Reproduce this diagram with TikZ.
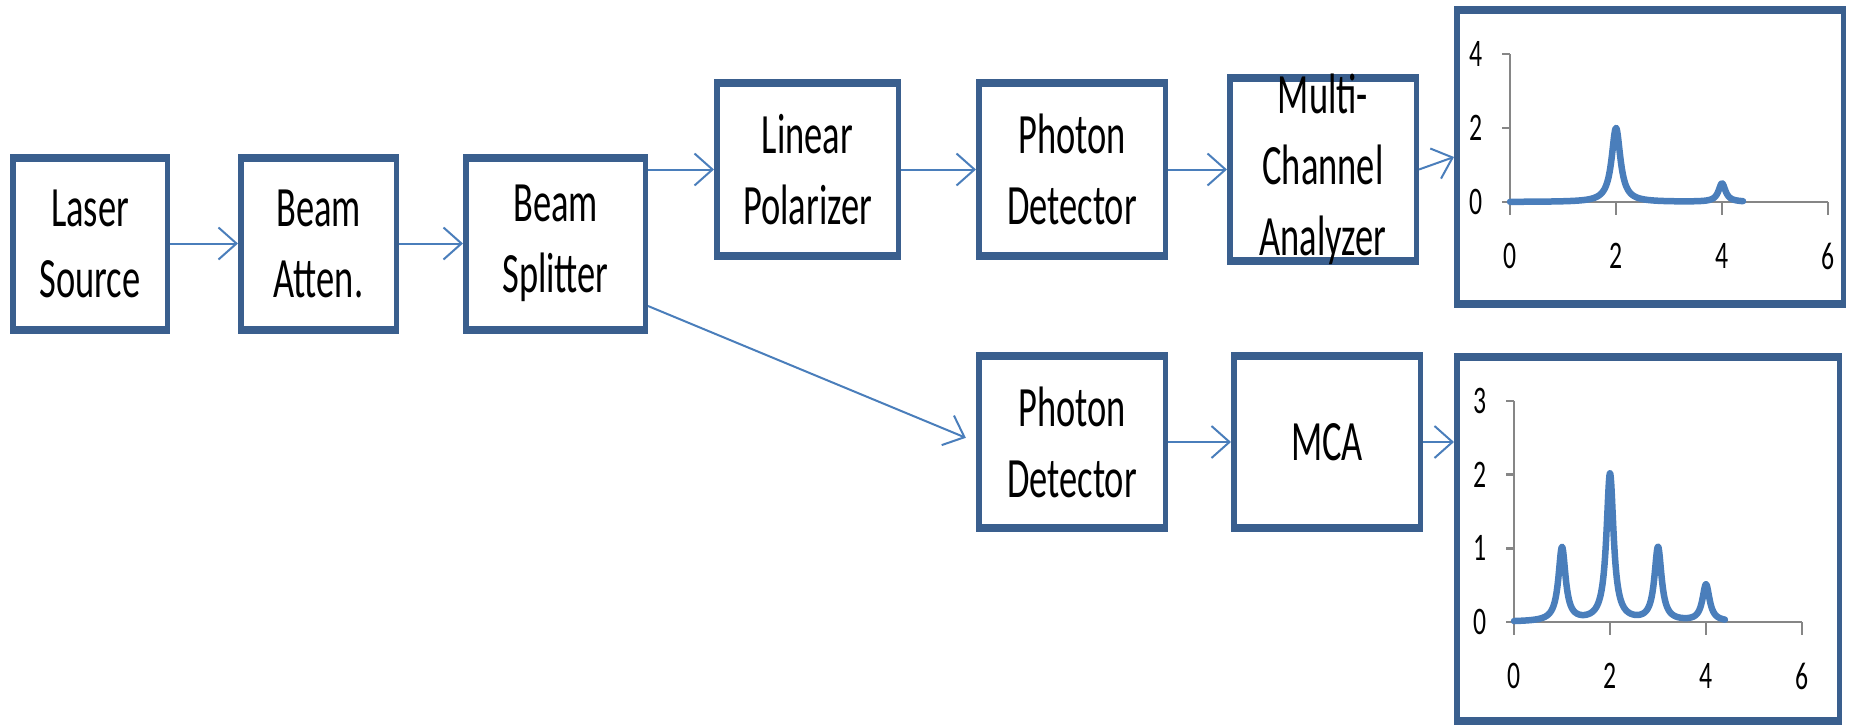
\documentclass[tikz,border=0pt]{standalone}
\usepackage{fontspec}
\setmainfont{Carlito}
\newfontfamily\boxfont{Carlito}[FakeStretch=0.64]
\newfontfamily\digitfont{Carlito}[FakeStretch=0.66]
\usetikzlibrary{arrows.meta,calc}
\definecolor{boxblue}{HTML}{3A5F8E}
\definecolor{arrblue}{HTML}{4A7EBB}
\definecolor{curveblue}{HTML}{4A7EBB}
\definecolor{axisgray}{HTML}{868686}
\tikzset{
  frame/.style={rectangle, inner sep=0pt, outer sep=0pt, draw=none, align=center,
    font={\boxfont\fontsize{57}{71}\selectfont},
    path picture={
      \fill[boxblue] (path picture bounding box.south west) rectangle (path picture bounding box.north east);
      \fill[white] ([shift={(5.5pt,8pt)}]path picture bounding box.south west) rectangle ([shift={(-5.5pt,-8pt)}]path picture bounding box.north east);
    }},
  arr/.style={draw=arrblue, line width=2pt, -{Straight Barb[length=18pt,width=32pt,line width=2pt]}},
  axisline/.style={draw=axisgray, line width=2.5pt},
  curve/.style={draw=curveblue, line width=6.5pt, line cap=round, line join=round},
  digit/.style={font={\digitfont\fontsize{39}{44}\selectfont}, inner sep=0pt},
}
\begin{document}
\begin{tikzpicture}[x=1pt,y=-1pt]
\useasboundingbox (0,0) rectangle (1850,728);
% blocks
\node[frame, minimum width=160pt, minimum height=180pt] (laser) at (90,243.5) {Laser\\Source};
\node[frame, minimum width=161pt, minimum height=180pt] (atten) at (318.5,243.5) {Beam\\Atten.};
\node[frame, minimum width=185pt, minimum height=180pt] (split) at (555.5,243.5) {Beam\\Splitter};
\node[frame, minimum width=187pt, minimum height=181pt] (lp) at (807.5,169.5) {Linear\\Polarizer};
\node[frame, minimum width=192pt, minimum height=181pt] (pdA) at (1072,169.5) {Photon\\Detector};
\node[frame, minimum width=192pt, minimum height=181pt] (mcaA) at (1323,169.5) {Multi-\\Channel\\Analyzer};
\node[frame, minimum width=192pt, minimum height=180pt] (pdB) at (1072,442) {Photon\\Detector};
\node[frame, minimum width=192pt, minimum height=180pt] (mcaB) at (1327,442) {MCA};
\node[frame, minimum width=392pt, minimum height=302pt] (chartA) at (1650,157) {};
\node[frame, minimum width=388pt, minimum height=372pt] (chartB) at (1648,539) {};
% connectors
\draw[arr] (laser) -- (atten);
\draw[arr] (atten) -- (split);
\draw[arr] (split.east |- lp.west) -- (lp.west);
\draw[arr] (lp) -- (pdA);
\draw[arr] (pdA) -- (mcaA);
\draw[arr] (mcaA.east) -- (chartA.west);
\draw[arr, shorten >=11pt] ([yshift=-62.5pt]split.east) -- (pdB.west);
\draw[arr] (pdB) -- (mcaB);
\draw[arr] (mcaB.east) -- (mcaB.east -| chartB.west);
% chart A
\begin{scope}[shift={(1510,202)}, x=53pt, y=37pt]
  \draw[axisline] (0,4) -- (0,0) -- (6,0);
  \foreach \yy in {0,2,4} {
    \draw[axisline] (0,\yy) -- ++(-8pt,0);
    \node[digit] at ([xshift=-34pt]0,\yy) {\yy};
  }
  \foreach \xx in {0,2,4,6} {
    \draw[axisline] (\xx,0) -- ++(0,-13pt);
    \node[digit] at ([yshift=-54pt]\xx,0) {\xx};
  }
  \draw[curve] plot[domain=0:4.4, samples=400] (\x, {2*0.01/((\x-2)^2+0.01) + 0.5*0.0064/((\x-4)^2+0.0064)});
\end{scope}
% chart B
\begin{scope}[shift={(1514,622)}, x=48pt, y=73.7pt]
  \draw[axisline] (0,3) -- (0,0) -- (6,0);
  \foreach \yy in {0,1,2,3} {
    \draw[axisline] (0,\yy) -- ++(-8pt,0);
    \node[digit] at ([xshift=-34pt]0,\yy) {\yy};
  }
  \foreach \xx in {0,2,4,6} {
    \draw[axisline] (\xx,0) -- ++(0,-13pt);
    \node[digit] at ([yshift=-54pt]\xx,0) {\xx};
  }
  \draw[curve] plot[domain=0:4.4, samples=500] (\x, {0.0081/((\x-1)^2+0.0081) + 2*0.0081/((\x-2)^2+0.0081) + 0.0081/((\x-3)^2+0.0081) + 0.5*0.0081/((\x-4)^2+0.0081)});
\end{scope}
\end{tikzpicture}
\end{document}
